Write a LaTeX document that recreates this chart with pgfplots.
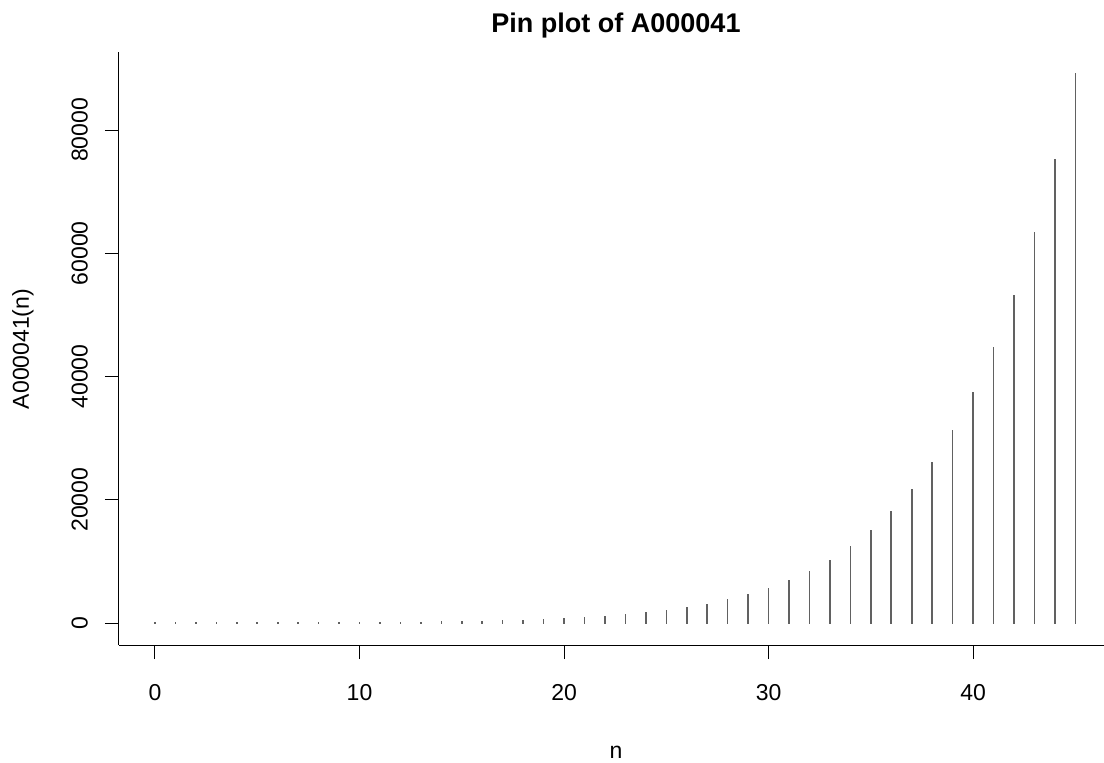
\documentclass[border=0pt]{standalone}
\usepackage{fontspec}
\setmainfont{Liberation Sans}
\usepackage{pgfplots}
\pgfplotsset{compat=1.18}

% partition numbers p(n), n = 0..45
\pgfplotstableread{
n   p
0   1
1   1
2   2
3   3
4   5
5   7
6   11
7   15
8   22
9   30
10  42
11  56
12  77
13  101
14  135
15  176
16  231
17  297
18  385
19  490
20  627
21  792
22  1002
23  1255
24  1575
25  1958
26  2436
27  3010
28  3718
29  4565
30  5604
31  6842
32  8349
33  10143
34  12310
35  14883
36  17977
37  21637
38  26015
39  31185
40  37338
41  44583
42  53174
43  63261
44  75175
45  89134
}\pdata

\begin{document}
\begin{tikzpicture}
\useasboundingbox (-59.5pt,-58.5pt) rectangle (492.5pt,322.5pt);
\begin{axis}[
    at={(0pt,0pt)}, anchor=south west,
    scale only axis,
    width=492.5pt, height=296.5pt,
    xmin=-1.76, xmax=46.4,
    ymin=-3570, ymax=92660,
    axis x line*=bottom, axis y line*=left,
    axis line style={-, black, line width=0.5pt},
    tick style={black, line width=0.5pt},
    tick align=outside,
    major tick length=7pt,
    xtick={0,10,...,40},
    ytick={0,20000,...,80000},
    scaled y ticks=false,
    /pgf/number format/1000 sep={},
    /pgf/number format/assume math mode=true,
    tick label style={font=\fontsize{11.5pt}{14pt}\selectfont},
    xticklabel style={yshift=-9pt},
    yticklabel style={rotate=90, anchor=south, yshift=5pt},
]
\addplot[ycomb, no marks, draw=black!62, line width=0.8pt, line cap=rect]
    table[x=n, y=p] {\pdata};
\end{axis}
\node[anchor=base, font=\bfseries\fontsize{13.5pt}{16pt}\selectfont] at (248.5pt,306pt) {Pin plot of A000041};
\node[anchor=base, font=\fontsize{11.5pt}{14pt}\selectfont] at (248.5pt,-56.5pt) {n};
\node[rotate=90, anchor=center, font=\fontsize{11.5pt}{14pt}\selectfont] at (-48pt,148pt) {A000041(n)};
\end{tikzpicture}
\end{document}
